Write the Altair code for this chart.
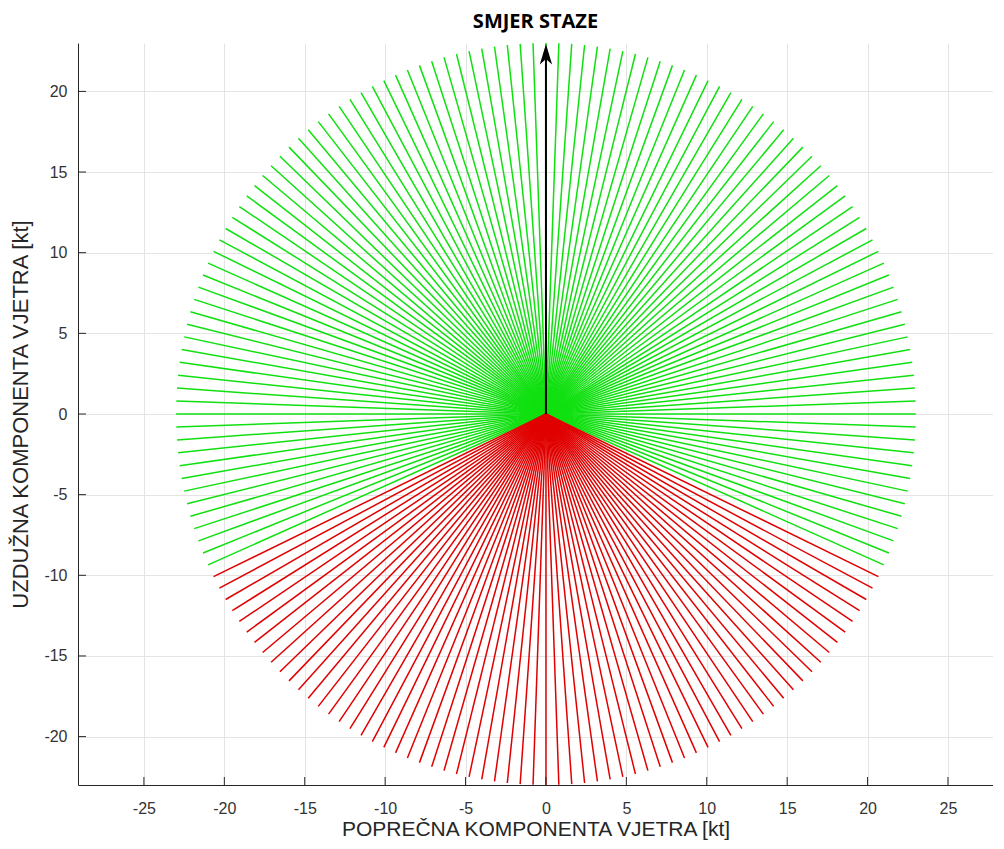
import math
import altair as alt
import pandas as pd

# --- data -------------------------------------------------------------
angles_deg = list(range(0, 360, 2))          # wind directions (math angle, deg)
radius_kt = 23                               # wind speed of every vector
red_sector = (206, 334)                      # angles drawn in red (tailwind)
x_ticks = [-25, -20, -15, -10, -5, 0, 5, 10, 15, 20, 25]
y_ticks = [-20, -15, -10, -5, 0, 5, 10, 15, 20]
arrow_len = 22.3

rows = []
for a in angles_deg:
    r = math.radians(a)
    rows.append({
        "ang": a,
        "x0": 0.0, "y0": 0.0,
        "x1": radius_kt * math.cos(r),
        "y1": radius_kt * math.sin(r),
        "zone": "red" if red_sector[0] <= a <= red_sector[1] else "green",
    })
df = pd.DataFrame(rows)

W, H = 915, 742
FONT = "Liberation Sans Narrow, Liberation Sans, Arial, sans-serif"
LBL = "toString(datum.value)"

xs = alt.Scale(domain=[-29.1, 27.8], nice=False, zero=False)
ys = alt.Scale(domain=[-23, 23], nice=False, zero=False)

xaxis = alt.Axis(values=x_ticks, title="POPREČNA KOMPONENTA VJETRA [kt]",
                 tickSize=0, labelPadding=15, titlePadding=2,
                 titleFontSize=21, labelExpr=LBL)
yaxis = alt.Axis(values=y_ticks, title="UZDUŽNA KOMPONENTA VJETRA [kt]",
                 tickSize=0, labelPadding=11, titlePadding=11,
                 titleFontSize=22, labelExpr=LBL)

base = alt.Chart(df)

green = base.transform_filter(alt.datum.zone == "green").mark_rule(
    color="#10e010", strokeWidth=1.5
).encode(
    x=alt.X("x0:Q", scale=xs, axis=xaxis),
    y=alt.Y("y0:Q", scale=ys, axis=yaxis),
    x2="x1:Q", y2="y1:Q",
)
red = base.transform_filter(alt.datum.zone == "red").mark_rule(
    color="#e00000", strokeWidth=1.5
).encode(
    x=alt.X("x0:Q", scale=xs), y=alt.Y("y0:Q", scale=ys),
    x2="x1:Q", y2="y1:Q",
)

arrow_df = pd.DataFrame({"x": [0.0], "y0": [0.0], "y1": [arrow_len]})
arrow_line = alt.Chart(arrow_df).mark_rule(color="black", strokeWidth=2).encode(
    x=alt.X("x:Q", scale=xs), y=alt.Y("y0:Q", scale=ys), y2="y1:Q"
)
arrow_head = alt.Chart(arrow_df).mark_point(
    shape="M0,-1L0.6,1L0,0.45L-0.6,1Z", filled=True, color="black",
    size=420, opacity=1
).encode(x=alt.X("x:Q", scale=xs), y=alt.Y("y1:Q", scale=ys))

xt_df = pd.DataFrame({"v": x_ticks})
yt_df = pd.DataFrame({"v": y_ticks})
xtick_marks = alt.Chart(xt_df).mark_rule(color="#262626", strokeWidth=1).encode(
    x=alt.X("v:Q", scale=xs), y=alt.value(H), y2=alt.value(H - 8)
)
ytick_marks = alt.Chart(yt_df).mark_rule(color="#262626", strokeWidth=1).encode(
    y=alt.Y("v:Q", scale=ys), x=alt.value(0), x2=alt.value(8)
)

chart = alt.layer(
    green, red, arrow_line, arrow_head, xtick_marks, ytick_marks
).properties(
    width=W, height=H,
    title=alt.TitleParams("SMJER STAZE", font="Open Sans", fontSize=20,
                          fontWeight="bold", color="black", offset=10,
                          anchor="middle"),
    autosize=alt.AutoSizeParams(type="none"),
    padding={"left": 70, "top": 35, "right": 0, "bottom": 56},
).configure_view(stroke=None).configure_axis(
    domainColor="#262626", domainWidth=1, gridColor="#e4e4e4", gridWidth=1,
    labelFont=FONT, labelFontSize=16, labelColor="#333333",
    titleFont=FONT, titleFontWeight="normal",
    titleColor="#262626",
)

chart.save("out.html", embed_options={"renderer": "svg", "actions": False})
